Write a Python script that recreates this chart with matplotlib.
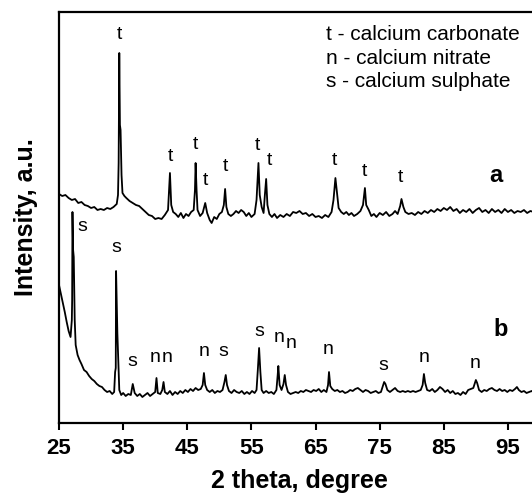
import matplotlib.pyplot as plt

# XRD pattern "a" (2 theta, intensity a.u.)
two_theta_a = [
    25, 25.5, 26, 26.5, 27, 27.5, 28, 28.5, 29, 29.5, 30, 30.5, 31, 31.5, 32, 32.5,
    33, 33.5, 34.0, 34.2, 34.3, 34.4, 34.5, 34.6, 34.75, 34.9, 35.2, 35.5, 36, 36.5,
    37, 37.5, 38, 38.5, 39, 39.5, 40, 40.5, 41, 41.5, 42, 42.3, 42.5, 42.8, 43.2,
    43.6, 44, 44.4, 44.8, 45.2, 45.6, 46.0, 46.2, 46.3, 46.45, 46.6, 47.0, 47.4,
    47.8, 48.1, 48.5, 48.8, 49.2, 49.6, 50.0, 50.4, 50.7, 50.9, 51.1, 51.4, 51.8,
    52.2, 52.6, 53.0, 53.4, 53.8, 54.2, 54.6, 55.0, 55.5, 55.8, 56.1, 56.3, 56.6,
    56.9, 57.1, 57.3, 57.5, 57.8, 58.2, 58.6, 59.0, 59.5, 60.0, 60.5, 61.0, 61.5,
    62.0, 62.5, 63.0, 63.5, 64.0, 64.5, 65.0, 65.5, 66.0, 66.5, 67.0, 67.5, 67.8,
    68.1, 68.3, 68.6, 69.0, 69.4, 69.8, 70.2, 70.6, 71.0, 71.5, 72.0, 72.4, 72.7,
    72.9, 73.3, 73.7, 74.1, 74.5, 75.0, 75.5, 76.0, 76.5, 77.0, 77.4, 77.8, 78.2,
    78.4, 78.7, 79.0, 79.5, 80, 80.5, 81, 81.5, 82, 82.5, 83, 83.5, 84, 84.5, 85,
    85.5, 86, 86.5, 87, 87.5, 88, 88.5, 89, 89.5, 90, 90.5, 91, 91.5, 92, 92.5, 93,
    93.5, 94, 94.5, 95, 95.5, 96, 96.5, 97, 97.5, 98, 98.5, 99, 99.5, 100,
]
intensity_a = [
    229, 227, 228, 225, 223, 224, 220, 221, 218, 217, 215, 216, 213, 214, 213, 215,
    214, 216, 219, 228, 260, 370, 298, 293, 248, 230, 227, 225, 222, 220,
    218, 217, 214, 211, 208, 207, 204, 205, 204, 208, 213, 250, 218, 211, 209,
    206, 210, 205, 209, 207, 211, 213, 233, 260, 233, 213, 207, 210,
    220, 210, 203, 200, 206, 204, 209, 211, 218, 234, 216, 209, 207,
    209, 212, 210, 213, 211, 207, 210, 206, 209, 223, 260, 228, 216,
    210, 228, 244, 218, 209, 206, 209, 205, 208, 206, 209, 207, 211,
    210, 212, 209, 210, 207, 209, 206, 207, 205, 208, 206, 211, 223,
    245, 233, 215, 211, 209, 211, 208, 210, 207, 209, 212, 218, 235,
    218, 213, 207, 209, 206, 210, 208, 211, 207, 209, 212, 209, 217,
    224, 216, 211, 209, 210, 208, 211, 209, 212, 210, 213, 211, 214, 212, 215,
    213, 216, 212, 214, 210, 213, 211, 214, 210, 213, 215, 211, 213, 210, 214, 211,
    213, 210, 214, 211, 213, 210, 212, 211, 213, 210, 212, 211, 213, 211,
]

# XRD pattern "b"
two_theta_b = [
    25.0, 25.3, 25.6, 25.9, 26.2, 26.5, 26.8, 27.0, 27.05, 27.1, 27.2, 27.3, 27.45,
    27.6, 27.9, 28.2, 28.5, 28.9, 29.3, 29.7, 30.1, 30.5, 30.9, 31.3, 31.7, 32.1,
    32.5, 32.9, 33.3, 33.6, 33.75, 33.85, 33.9, 34.0, 34.1, 34.25, 34.4, 34.7, 35.0,
    35.4, 35.8, 36.2, 36.5, 36.8, 37.2, 37.6, 38.0, 38.4, 38.8, 39.2, 39.6, 40.0,
    40.2, 40.4, 40.8, 41.1, 41.3, 41.5, 41.9, 42.3, 42.7, 43.1, 43.5, 43.9, 44.3,
    44.7, 45.1, 45.5, 45.9, 46.3, 46.7, 47.1, 47.4, 47.6, 47.8, 48.1, 48.5, 48.9,
    49.3, 49.7, 50.1, 50.5, 50.8, 51.0, 51.2, 51.5, 51.9, 52.3, 52.7, 53.1, 53.5,
    53.9, 54.3, 54.7, 55.1, 55.5, 55.8, 56.0, 56.2, 56.4, 56.6, 56.9, 57.3, 57.7,
    58.1, 58.5, 58.9, 59.1, 59.2, 59.4, 59.7, 60.0, 60.2, 60.4, 60.7, 61.1, 61.5,
    61.9, 62.3, 62.7, 63.1, 63.5, 63.9, 64.3, 64.7, 65.1, 65.5, 65.9, 66.3, 66.7,
    66.95, 67.1, 67.3, 67.6, 68.0, 68.4, 68.8, 69.2, 69.6, 70.0, 70.4, 70.8, 71.2,
    71.6, 72.0, 72.4, 72.8, 73.2, 73.6, 74.0, 74.4, 74.8, 75.2, 75.5, 75.7, 75.9,
    76.2, 76.6, 77.0, 77.4, 77.8, 78.2, 78.6, 79.0, 79.4, 79.8, 80.2, 80.6, 81.0,
    81.4, 81.7, 81.9, 82.1, 82.4, 82.8, 83.2, 83.6, 84.0, 84.4, 84.8, 85.2, 85.6,
    86.0, 86.4, 86.8, 87.2, 87.6, 88.0, 88.4, 88.8, 89.2, 89.6, 90.0, 90.2, 90.5,
    90.9, 91.3, 91.7, 92.1, 92.5, 92.9, 93.3, 93.7, 94.1, 94.5, 94.9, 95.3, 95.7,
    96.1, 96.4, 96.7, 97.1, 97.5, 97.9, 98.3, 98.7, 99.1, 99.5, 100.0,
]
intensity_b = [
    138, 129, 120, 111, 101, 92, 86, 103, 123, 211, 173, 166, 103,
    78, 68, 63, 59, 53, 51, 47, 44, 42, 39, 37, 36, 33,
    31, 32, 29, 31, 51, 55, 152, 123, 90, 63, 33, 28, 30,
    27, 29, 28, 39, 30, 27, 29, 26, 28, 30, 27, 29, 31,
    45, 30, 29, 33, 41, 31, 29, 32, 28, 31, 29, 32, 30,
    33, 31, 34, 32, 35, 33, 34, 38, 50, 38, 33, 31, 33,
    30, 32, 31, 33, 41, 48, 38, 32, 30, 33, 31, 30, 32,
    29, 31, 29, 32, 30, 33, 53, 75, 51, 33, 30, 32, 30,
    31, 29, 33, 48, 57, 38, 33, 39, 48, 38, 31, 29, 30,
    31, 30, 32, 31, 33, 32, 31, 33, 32, 34, 31, 33, 31,
    38, 51, 37, 34, 32, 33, 31, 32, 30, 31, 33, 32, 34,
    35, 33, 31, 33, 32, 30, 31, 32, 30, 31, 37, 41, 39,
    33, 31, 33, 35, 32, 31, 32, 31, 32, 31, 32, 31, 32,
    33, 38, 49, 40, 33, 32, 34, 31, 33, 36, 34, 31, 33,
    30, 32, 29, 30, 28, 31, 29, 33, 34, 35, 43, 40, 33,
    31, 33, 32, 34, 35, 33, 32, 34, 32, 33, 31, 33, 32,
    34, 36, 33, 31, 32, 30, 31, 32, 30, 31, 32,
]

# phase marks above the peaks
marks_a_letter = ["t", "t", "t", "t", "t", "t", "t", "t", "t", "t"]
marks_a_x = [34.35, 42.3, 46.2, 47.9, 50.9, 56.0, 57.8, 68.0, 72.6, 78.2]
marks_a_y = [388, 266, 278, 242, 256, 277, 262, 262, 251, 245]

marks_b_letter = ["s", "s", "s", "n", "n", "n", "s", "s", "n", "n", "n", "s", "n", "n"]
marks_b_x = [28.7, 33.9, 36.5, 40.0, 41.8, 47.6, 50.7, 56.2, 59.3, 61.2, 66.9, 75.5, 81.9, 89.9]
marks_b_y = [196, 175, 61, 65, 65, 71, 72, 92, 85, 79, 73, 57, 65, 60]

legend_lines = ["t - calcium carbonate", "n - calcium nitrate", "s - calcium sulphate"]
x_ticks = [25, 35, 45, 55, 65, 75, 85, 95]

plt.rcParams["font.family"] = ["Liberation Sans", "DejaVu Sans"]

fig = plt.figure(figsize=(5.32, 4.95), dpi=100)
ax = fig.add_axes([59 / 532, 72 / 495, 481 / 532, 411 / 495])

ax.plot(two_theta_a, intensity_a, color="black", linewidth=1.3)
ax.plot(two_theta_b, intensity_b, color="black", linewidth=1.3)

for letter, x, y in zip(marks_a_letter, marks_a_x, marks_a_y):
    ax.text(x, y, letter, fontsize=14, ha="center", va="center")
for letter, x, y in zip(marks_b_letter, marks_b_x, marks_b_y):
    ax.text(x, y, letter, fontsize=14, ha="center", va="center")

ax.text(93.1, 247, "a", fontsize=17, fontweight="bold", ha="center", va="center")
ax.text(93.8, 93, "b", fontsize=17, fontweight="bold", ha="center", va="center")

for i, line in enumerate(legend_lines):
    ax.text(66.7, 388 - i * 23.5, line, fontsize=15, ha="left", va="center")

ax.set_xlim(25, 100)
ax.set_ylim(0, 411)
ax.set_xticks(x_ticks)
ax.set_yticks([])
ax.tick_params(axis="x", direction="out", length=5, width=1.5, labelsize=16, pad=6)
for lab in ax.get_xticklabels():
    lab.set_fontweight("bold")
for side in ["left", "bottom", "top", "right"]:
    ax.spines[side].set_linewidth(1.6)

ax.set_xlabel("2 theta, degree", fontsize=18, fontweight="bold", labelpad=7)
ax.set_ylabel("Intensity, a.u.", fontsize=18, fontweight="bold", labelpad=15)

fig.savefig("out.png", dpi=100)
